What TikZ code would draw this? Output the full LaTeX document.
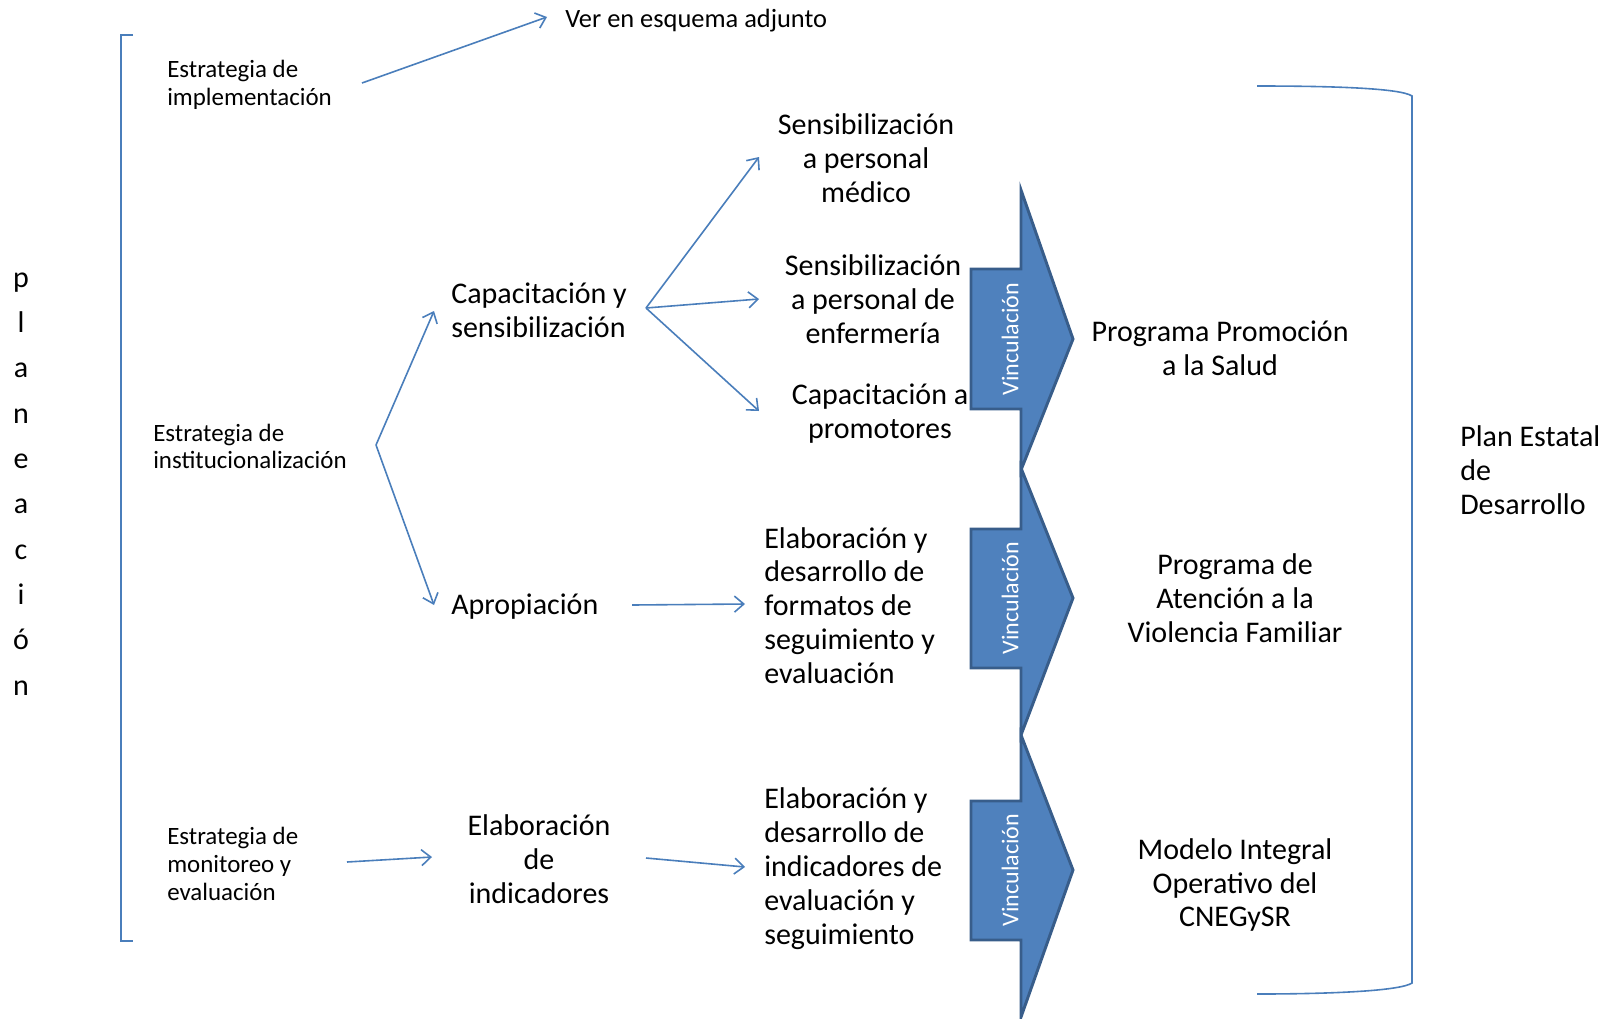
\documentclass[tikz,border=0pt]{standalone}
\usepackage{fontspec}
\setmainfont{Carlito}
\usetikzlibrary{arrows.meta}
\definecolor{lineblue}{HTML}{4A7EBB}
\definecolor{fillblue}{HTML}{4F81BD}
\definecolor{edgeblue}{HTML}{385D8A}
\begin{document}
\begin{tikzpicture}[x=0.75pt,y=-0.75pt,
  smalltxt/.style={font=\fontsize{18.7}{20.8}\selectfont, inner sep=0pt, text=black},
  bigtxt/.style={font=\fontsize{22.5}{25.4}\selectfont, inner sep=0pt, text=black},
  arr/.style={draw=lineblue, line width=1.2pt, -{Straight Barb[length=7pt,width=12pt]}},
  bracketline/.style={draw=lineblue, line width=1.2pt},
  blockarrow/.style={fill=fillblue, draw=edgeblue, line width=2.2pt, line join=miter},
  vinc/.style={text=white, rotate=90, font=\fontsize{18}{20}\selectfont, inner sep=0pt}]
\useasboundingbox (0,0) rectangle (1608,1018);

% left bracket
\draw[bracketline] (133,35) -- (121,35) -- (121,941) -- (133,941);
\node[font=\fontsize{22.5}{34}\selectfont, align=center, inner sep=0pt] (plan) at (21,484)
  {p\\l\\a\\n\\e\\a\\c\\i\\ó\\n};

% texts
\node[smalltxt, anchor=west, align=left] (impl) at (167,85) {Estrategia de\\implementación};
\node[font=\fontsize{19.8}{22}\selectfont, inner sep=0pt, anchor=west] (ver) at (565,21) {Ver en esquema adjunto};
\node[smalltxt, anchor=west, align=left] (inst) at (153,446.5) {Estrategia de\\institucionalización};
\node[smalltxt, anchor=west, align=left] (mon) at (167,864) {Estrategia de\\monitoreo y\\evaluación};

\node[bigtxt, anchor=west, align=left] (cap) at (451,310) {Capacitación y\\sensibilización};
\node[bigtxt, align=center] (sens1) at (866,158) {Sensibilización\\a personal\\médico};
\node[bigtxt, align=center] (sens2) at (873,299) {Sensibilización\\a personal de\\enfermería};
\node[bigtxt, align=center] (capprom) at (880,413.5) {Capacitación a\\promotores};
\node[bigtxt, anchor=west] (aprop) at (451,607) {Apropiación};
\node[bigtxt, anchor=west, align=left] (elab1) at (764,605.5) {Elaboración y\\desarrollo de\\formatos de\\seguimiento y\\evaluación};
\node[bigtxt, align=center] (elabind) at (539,859) {Elaboración\\de\\indicadores};
\node[bigtxt, anchor=west, align=left] (elab2) at (764,868.5) {Elaboración y\\desarrollo de\\indicadores de\\evaluación y\\seguimiento};

\node[bigtxt, align=center] (prog1) at (1220,348) {Programa Promoción\\a la Salud};
\node[bigtxt, align=center] (prog2) at (1235,598) {Programa de\\Atención a la\\Violencia Familiar};
\node[bigtxt, align=center] (prog3) at (1235,885) {Modelo Integral\\Operativo del\\CNEGySR};
\node[bigtxt, anchor=west, align=left] (pe) at (1460,470) {Plan Estatal\\de\\Desarrollo};

% connector coordinates
\coordinate (implout) at (362,83);
\coordinate (verin) at (547,17);
\coordinate (instfork) at (376,445);
\coordinate (capin) at (434,311);
\coordinate (apropin) at (434,605);
\coordinate (capfork) at (646,308);
\coordinate (sens1in) at (759,157);
\coordinate (sens2in) at (759,299);
\coordinate (capin2) at (759,411);
\coordinate (apropout) at (632,605);
\coordinate (elab1in) at (745,604);
\coordinate (monout) at (347,862);
\coordinate (elabindin) at (432,857);
\coordinate (elabindout) at (646,858);
\coordinate (elab2in) at (745,867);

\draw[arr] (implout) -- (verin);
\draw[arr] (instfork) -- (capin);
\draw[arr] (instfork) -- (apropin);
\draw[arr] (capfork) -- (sens1in);
\draw[arr] (capfork) -- (sens2in);
\draw[arr] (capfork) -- (capin2);
\draw[arr] (apropout) -- (elab1in);
\draw[arr] (monout) -- (elabindin);
\draw[arr] (elabindout) -- (elab2in);

% block arrows
\draw[blockarrow] (971,269) -- (1021,269) -- (1021,190) -- (1073,339) -- (1021,470) -- (1021,409) -- (971,409) -- cycle;
\node[vinc] (v1) at (1010,339) {Vinculación};
\draw[blockarrow] (971,529) -- (1021,529) -- (1021,468) -- (1073,598) -- (1021,735) -- (1021,668) -- (971,668) -- cycle;
\node[vinc] (v2) at (1010,598) {Vinculación};
\draw[blockarrow] (971,801) -- (1021,801) -- (1021,735) -- (1073,870) -- (1021,1017) -- (1021,940) -- (971,940) -- cycle;
\node[vinc] (v3) at (1010,870) {Vinculación};

% right bracket
\draw[bracketline] (1257,86) .. controls (1330,86) and (1400,88) .. (1412,96) -- (1412,983) .. controls (1400,991) and (1330,994) .. (1257,994);
\end{tikzpicture}
\end{document}
